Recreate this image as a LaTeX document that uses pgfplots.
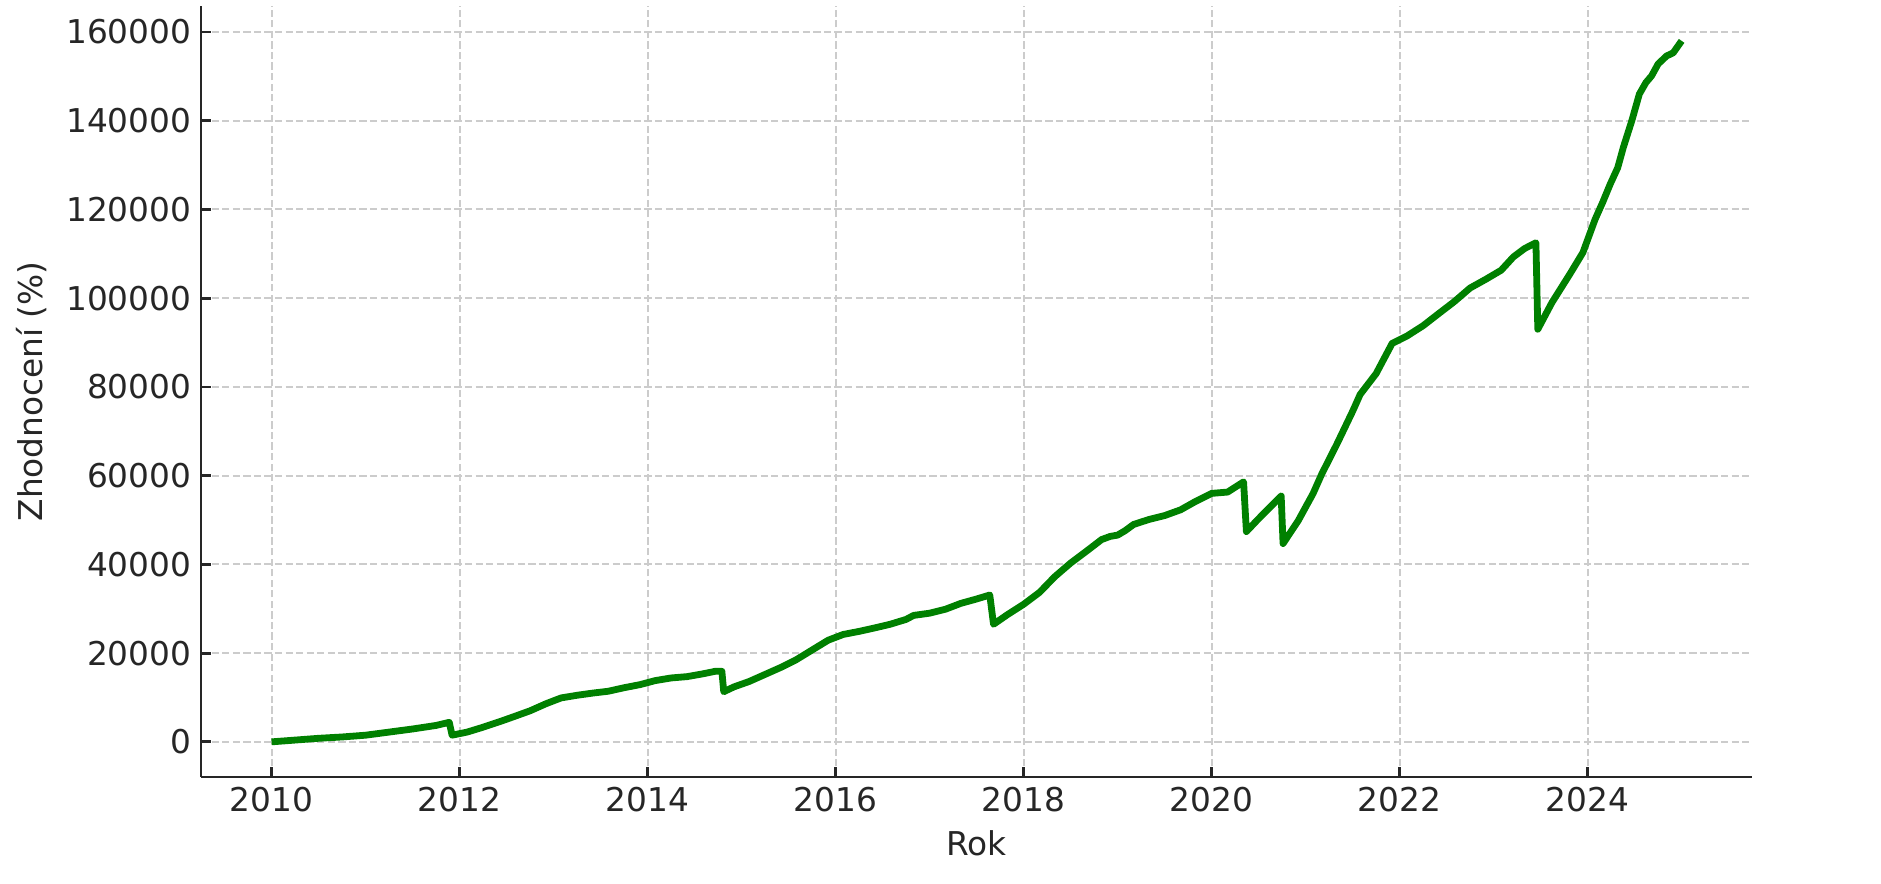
\documentclass[border=0pt]{standalone}
\usepackage{fontspec}
\setmainfont{DejaVu Sans}
\usepackage{pgfplots}
\pgfplotsset{compat=1.18}
\definecolor{txt}{HTML}{262626}
\definecolor{gridc}{HTML}{CCCCCC}
\definecolor{lineg}{HTML}{008000}

\begin{document}
\begin{tikzpicture}
\begin{axis}[
    width=558.4pt, height=277.6pt,
    scale only axis,
    xmin=2009.25, xmax=2025.75,
    ymin=-7900, ymax=165900,
    axis lines*=left,
    axis line style={txt, line width=1pt},
    xtick={2010,2012,2014,2016,2018,2020,2022,2024},
    xticklabels={2010,2012,2014,2016,2018,2020,2022,2024},
    ytick={0,20000,40000,60000,80000,100000,120000,140000,160000},
    yticklabels={0,20000,40000,60000,80000,100000,120000,140000,160000},
    tick align=inside,
    major tick length=3.6pt,
    tick style={txt, line width=1pt},
    grid=major,
    grid style={gridc, line width=0.7pt, dash pattern=on 2.6pt off 1.2pt},
    scaled y ticks=false,
    tick label style={font=\fontsize{11.8}{14}\selectfont, text=txt},
    label style={font=\fontsize{11.8}{14}\selectfont, text=txt},
    xlabel={Rok},
    ylabel={Zhodnocení (\%)},
]
\addplot[lineg, line width=2.45pt, line join=round] coordinates {
(2010.00,0) (2010.25,400) (2010.50,800) (2010.75,1100) (2011.00,1500)
(2011.25,2200) (2011.50,2900) (2011.75,3700) (2011.89,4400) (2011.92,1500)
(2012.08,2200) (2012.25,3300) (2012.42,4500) (2012.58,5700) (2012.75,7000)
(2012.92,8600) (2013.08,9900) (2013.25,10500) (2013.42,11000) (2013.58,11400)
(2013.75,12200) (2013.92,12900) (2014.08,13800) (2014.25,14400) (2014.42,14700)
(2014.58,15300) (2014.72,15900) (2014.79,15900) (2014.81,11300) (2014.92,12400)
(2015.08,13600) (2015.25,15200) (2015.42,16800) (2015.58,18500) (2015.75,20700)
(2015.92,22900) (2016.08,24200) (2016.25,24900) (2016.42,25700) (2016.58,26500)
(2016.75,27600) (2016.83,28500) (2017.00,29000) (2017.17,29900) (2017.33,31200)
(2017.50,32200) (2017.64,33100) (2017.68,26500) (2017.83,28700) (2018.00,31000)
(2018.17,33700) (2018.33,37200) (2018.50,40300) (2018.67,43000) (2018.83,45600)
(2018.92,46300) (2019.00,46600) (2019.08,47600) (2019.17,49000) (2019.33,50100)
(2019.50,51000) (2019.67,52300) (2019.83,54200) (2020.00,56000) (2020.17,56300)
(2020.34,58600) (2020.37,47400) (2020.50,50300) (2020.74,55400) (2020.76,44700)
(2020.92,49800) (2021.08,56000) (2021.17,60300) (2021.33,67000) (2021.50,74500)
(2021.58,78300) (2021.75,83000) (2021.92,89800) (2022.08,91500) (2022.25,93800)
(2022.42,96600) (2022.58,99200) (2022.75,102300) (2022.92,104300) (2023.08,106300)
(2023.21,109300) (2023.33,111200) (2023.45,112500) (2023.47,93000) (2023.62,99000)
(2023.81,105400) (2023.95,110300) (2024.08,117800) (2024.16,121600) (2024.24,125700)
(2024.32,129400) (2024.38,134000) (2024.47,140000) (2024.55,146000) (2024.62,148600)
(2024.68,150100) (2024.75,152800) (2024.84,154600) (2024.91,155300) (2025.00,158000)
};
\end{axis}
\pgfresetboundingbox
\path[use as bounding box] (-72.4pt,-38.5pt) rectangle (604.8pt,279.7pt);
\end{tikzpicture}
\end{document}
